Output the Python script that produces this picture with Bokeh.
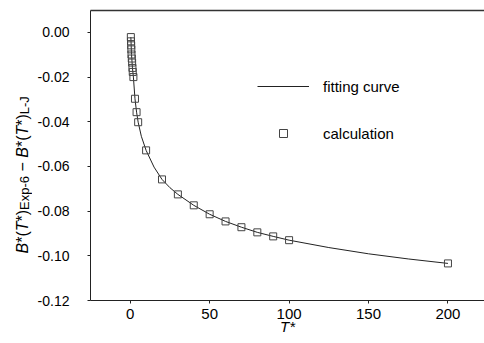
import math
from bokeh.plotting import figure
from bokeh.layouts import row
from bokeh.models import Legend, LegendItem, LinearAxis, FixedTicker, Range1d
from bokeh.core.properties import value
from bokeh.embed import file_html
from bokeh.resources import INLINE

# ---- data ----
T_calc = [0.4, 0.5, 0.6, 0.7, 0.8, 1.0, 1.2, 1.4, 1.6, 2.0, 3, 4, 5,
          10, 20, 30, 40, 50, 60, 70, 80, 90, 100, 200]
B_calc = [-0.0021, -0.0040, -0.0058, -0.0076, -0.0099, -0.0117, -0.0135,
          -0.0159, -0.0177, -0.0200, -0.0297, -0.0357, -0.0402,
          -0.0528, -0.0658, -0.0725, -0.0774, -0.0814, -0.0846, -0.0872,
          -0.0895, -0.0913, -0.0930, -0.1034]

T_fit = [0.4, 0.6, 0.8, 1.0, 1.4, 2.0, 3, 4, 5, 7, 10, 15, 20, 25, 30,
         40, 50, 60, 70, 80, 90, 100, 125, 150, 175, 200]
B_fit = [-0.0021, -0.0058, -0.0099, -0.0117, -0.0159, -0.0200, -0.0297,
         -0.0357, -0.0402, -0.0465, -0.0528, -0.0603, -0.0658, -0.0695,
         -0.0725, -0.0774, -0.0814, -0.0846, -0.0872, -0.0895, -0.0913,
         -0.0930, -0.0963, -0.0991, -0.1014, -0.1034]

x_ticks = [0, 50, 100, 150, 200]
y_ticks = [0.00, -0.02, -0.04, -0.06, -0.08, -0.10, -0.12]
y_tick_labels = ["0.00", "-0.02", "-0.04", "-0.06", "-0.08", "-0.10", "-0.12"]

FONT = "Liberation Sans"
X0, X1 = -25, 223
Y0, Y1 = -0.12, 0.0098
H = 343
TOP, BOTTOM = 10, 43      # borders above / below the frame
LW = 32                   # width of the strip holding the rotated y title

# ---- main plot ----
p = figure(width=484 - LW, height=H, output_backend="svg", toolbar_location=None,
           x_range=Range1d(X0, X1), y_range=Range1d(Y0, Y1),
           min_border_left=90 - LW, min_border_right=0, min_border_top=TOP,
           min_border_bottom=BOTTOM)
p.outline_line_color = None
p.grid.visible = False
p.background_fill_color = "white"

line_r = p.line(T_fit, B_fit, line_color="#222222", line_width=1)
sc_r = p.scatter(T_calc, B_calc, marker="square", size=7, fill_color=None,
                 line_color="#444444", line_width=1)

xa = p.xaxis[0]
xa.ticker = FixedTicker(ticks=x_ticks)
xa.minor_tick_line_color = None
xa.major_tick_in = 0
xa.major_tick_out = 3
xa.major_label_standoff = 5
xa.major_label_text_font = FONT
xa.major_label_text_font_size = "15px"
xa.major_label_text_color = "black"
xa.axis_line_color = "#222222"
xa.major_tick_line_color = "#222222"
xa.axis_label = "T*"
xa.axis_label_text_font = FONT
xa.axis_label_text_font_size = "15px"
xa.axis_label_text_font_style = "italic"
xa.axis_label_text_color = "black"
xa.axis_label_standoff = -4

ya = p.yaxis[0]
ya.ticker = FixedTicker(ticks=y_ticks)
ya.major_label_overrides = {t: s for t, s in zip(y_ticks, y_tick_labels)}
ya.minor_tick_line_color = None
ya.major_tick_in = 0
ya.major_tick_out = 3
ya.major_label_standoff = 18
ya.major_label_text_font = FONT
ya.major_label_text_font_size = "14px"
ya.major_label_text_color = "black"
ya.axis_line_color = "#222222"
ya.major_tick_line_color = "#222222"

top = LinearAxis(ticker=FixedTicker(ticks=[]), major_label_text_font_size="0px",
                 major_tick_in=0, major_tick_out=0, minor_tick_in=0,
                 minor_tick_out=0, major_label_standoff=0,
                 axis_line_color="#333333", axis_line_width=1.5)
p.add_layout(top, "above")

legend = Legend(items=[LegendItem(label="fitting curve", renderers=[line_r]),
                       LegendItem(label="calculation", renderers=[sc_r])],
                location=(167, 157), glyph_width=52, glyph_height=20,
                label_height=20, label_standoff=14, spacing=27, padding=0,
                margin=0, border_line_color=None, background_fill_alpha=0,
                label_text_font=FONT, label_text_font_size="15px",
                label_text_color="black")
p.add_layout(legend)

# ---- left strip with the rotated y-axis title ----
# its frame has the same top/bottom as the main frame; y = pixels above frame bottom
FH = H - TOP - BOTTOM
t = figure(width=LW, height=H, output_backend="svg", toolbar_location=None,
           x_range=Range1d(0, LW), y_range=Range1d(0, FH),
           x_axis_location=None, y_axis_location=None,
           min_border_left=0, min_border_right=0, min_border_top=TOP,
           min_border_bottom=BOTTOM)
t.outline_line_color = None
t.grid.visible = False

W = {'B': .667, '*': .389, '(': .333, ')': .333, 'T': .611, 'E': .667,
     'x': .5, 'p': .556, '-': .333, '6': .556, ' ': .278, '\u2212': .584,
     'L': .556, 'J': .5}
MAIN, SUB = 16, 13
pieces = [("B", MAIN, "italic", False), ("*(", MAIN, "normal", False),
          ("T", MAIN, "italic", False), ("*)", MAIN, "normal", False),
          ("Exp-6", SUB, "normal", True), (" ", MAIN, "normal", False),
          ("\u2212", MAIN, "normal", False), (" ", MAIN, "normal", False),
          ("B", MAIN, "italic", False), ("*(", MAIN, "normal", False),
          ("T", MAIN, "italic", False), ("*)", MAIN, "normal", False),
          ("L-J", SUB, "normal", True)]
pos = (H - BOTTOM) - 253.0
for txt, size, style, sub in pieces:
    if txt.strip():
        t.text(x=[23.5 if sub else 21.5], y=[pos], text=[txt], angle=math.pi / 2,
               text_align="left", text_baseline="alphabetic",
               text_font=value(FONT), text_font_size=f"{size}px",
               text_font_style=style, text_color="black")
    pos += sum(W[c] for c in txt) * size

layout = row(t, p, spacing=0)
open("out.html", "w").write(file_html(layout, INLINE))
